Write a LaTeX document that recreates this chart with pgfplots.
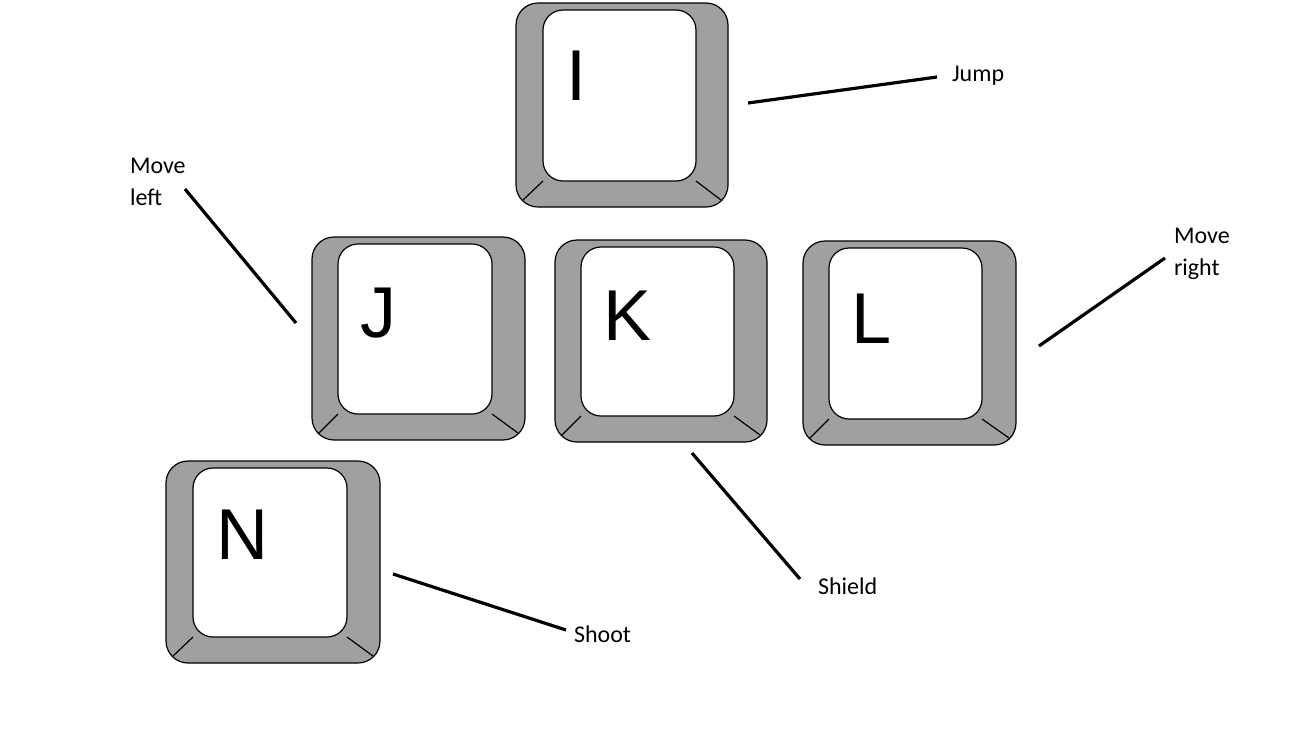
\documentclass[border=0pt]{standalone}
\usepackage{pgfplots}
\pgfplotsset{compat=1.18}
\usepackage{fontspec}
\setmainfont{Carlito}
\newfontfamily\keyfont{Liberation Sans}
\definecolor{keygray}{HTML}{A0A0A0}
\newcommand{\key}[9]{%
 \draw[fill=keygray,line width=0.6pt,rounded corners=11pt] (axis cs:#1,#2) rectangle (axis cs:#3,#4);
 \draw[line width=0.6pt] (axis cs:#5,#8) -- (axis cs:#1+7,#4-7);
 \draw[line width=0.6pt] (axis cs:#7,#8) -- (axis cs:#3-7,#4-7);
 \draw[fill=white,line width=0.6pt,rounded corners=10pt] (axis cs:#5,#6) rectangle (axis cs:#7,#8);
}
\begin{document}
\begin{tikzpicture}
\begin{axis}[x=0.5pt,y=-0.5pt,xmin=0,xmax=1298,ymin=0,ymax=735,hide axis,clip=false,scale only axis]
\addplot[draw=none] coordinates {(0,0) (1298,735)};
\key{516}{3}{728}{207}{543}{10}{696}{181}{}
\key{312}{237}{525}{440}{338}{244}{492}{414}{}
\key{555}{240}{767}{442}{581}{247}{734}{416}{}
\key{803}{241}{1016}{445}{829}{248}{982}{419}{}
\key{166}{461}{380}{663}{193}{468}{347}{637}{}
\node[font=\keyfont\fontsize{36}{36}\selectfont] at (axis cs:576,76) {I};
\node[font=\keyfont\fontsize{36}{36}\selectfont] at (axis cs:378,313) {J};
\node[font=\keyfont\fontsize{36}{36}\selectfont] at (axis cs:628,316) {K};
\node[font=\keyfont\fontsize{36}{36}\selectfont] at (axis cs:872,319) {L};
\node[font=\keyfont\fontsize{36}{36}\selectfont] at (axis cs:242,535) {N};
\addplot[black,line width=1.6pt] coordinates {(748,103) (937,77)};
\addplot[black,line width=1.6pt] coordinates {(185,189) (296,323)};
\addplot[black,line width=1.6pt] coordinates {(692,453) (800,579)};
\addplot[black,line width=1.6pt] coordinates {(1039,346) (1165,258)};
\addplot[black,line width=1.6pt] coordinates {(393,574) (566,630)};
\node[anchor=west,font=\fontsize{12}{14}\selectfont] at (axis cs:945,76) {Jump};
\node[anchor=west,align=left,font=\fontsize{12}{16}\selectfont] at (axis cs:123,182) {Move\\left};
\node[anchor=west,font=\fontsize{12}{14}\selectfont] at (axis cs:811,586) {Shield};
\node[anchor=west,align=left,font=\fontsize{12}{16}\selectfont] at (axis cs:1167,254) {Move\\right};
\node[anchor=west,font=\fontsize{12}{14}\selectfont] at (axis cs:567,634) {Shoot};
\end{axis}
\end{tikzpicture}
\end{document}
